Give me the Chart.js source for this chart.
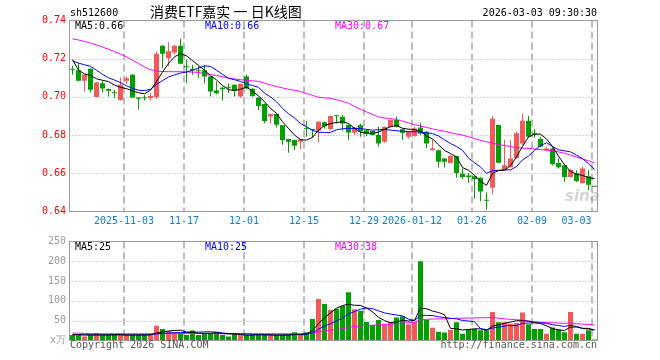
<!DOCTYPE html>
<html>
<head>
<meta charset="utf-8">
<script src="https://cdn.jsdelivr.net/npm/chart.js@4.4.1/dist/chart.umd.min.js"></script>
<style>
  body { margin: 0; background: #fff; width: 660px; height: 360px; position: relative; overflow: hidden; }
  canvas { position: absolute; left: 0; }
  #cK { top: 0; }
  #cV { top: 232px; }
  .t { position: absolute; white-space: pre; font: 10px "DejaVu Sans Mono", monospace; line-height: 10px; }
</style>
</head>
<body>
<canvas id="cK" width="660" height="232"></canvas>
<canvas id="cV" width="660" height="128"></canvas>

<div class="t" style="left:70px;top:8px;color:#000">sh512600</div>
<div class="t" style="left:150px;top:4px;font:14px 'Noto Sans CJK SC';line-height:14px;color:#000">消费ETF嘉实 一 日K线图</div>
<div class="t" style="right:63px;top:7.5px;color:#000">2026-03-03 09:30:30</div>

<div class="t" style="left:75px;top:21px;color:#000">MA5:0.66</div>
<div class="t" style="left:205px;top:21px;color:#00f">MA10:0.66</div>
<div class="t" style="left:335px;top:21px;color:#f0f">MA30:0.67</div>

<div class="t" style="left:75px;top:241.5px;color:#000">MA5:25</div>
<div class="t" style="left:205px;top:241.5px;color:#00f">MA10:25</div>
<div class="t" style="left:335px;top:241.5px;color:#f0f">MA30:38</div>

<div class="t" style="left:70px;top:340px;color:#555">Copyright 2026 SINA.COM</div>
<div class="t" style="right:63px;top:340px;color:#555">http://finance.sina.com.cn</div>
<div class="t" style="left:565px;top:189px;font:italic bold 15px 'DejaVu Sans';line-height:15px;color:rgba(150,150,150,0.4)">sina</div>

<script>
// 日K：开高低收，按交易日顺序（2025-10 末 ~ 2026-03-03）
const openP = [0.7145,0.7139,0.7084,0.7147,0.7000,0.7072,0.7042,0.7022,0.6984,0.7084,
  0.7116,0.6997,0.6995,0.6993,0.7000,0.7268,0.7204,0.7233,0.7268,0.7158,
  0.7147,0.7138,0.7139,0.7107,0.7033,0.7048,0.7051,0.7063,0.7002,0.7107,
  0.7043,0.6996,0.6963,0.6898,0.6910,0.6851,0.6779,0.6774,0.6765,0.6833,
  0.6829,0.6823,0.6867,0.6832,0.6901,0.6896,0.6853,0.6812,0.6851,0.6826,
  0.6821,0.6800,0.6765,0.6844,0.6879,0.6830,0.6791,0.6795,0.6840,0.6818,
  0.6721,0.6721,0.6677,0.6654,0.6690,0.6598,0.6589,0.6584,0.6577,0.6460,
  0.6525,0.6853,0.6619,0.6632,0.6680,0.6756,0.6875,0.6806,0.6780,0.6721,
  0.6730,0.6654,0.6642,0.6580,0.6600,0.6548,0.6584,0.6530];
const highP = [0.7163,0.7178,0.7118,0.7150,0.7078,0.7084,0.7044,0.7037,0.7102,0.7107,
  0.7118,0.6999,0.7009,0.7021,0.7239,0.7270,0.7286,0.7272,0.7305,0.7195,
  0.7168,0.7160,0.7168,0.7110,0.7080,0.7053,0.7070,0.7065,0.7070,0.7116,
  0.7046,0.6998,0.6965,0.6912,0.6912,0.6853,0.6781,0.6776,0.6779,0.6874,
  0.6832,0.6872,0.6870,0.6902,0.6902,0.6905,0.6855,0.6842,0.6860,0.6828,
  0.6823,0.6844,0.6846,0.6882,0.6897,0.6835,0.6820,0.6844,0.6865,0.6820,
  0.6777,0.6723,0.6679,0.6695,0.6692,0.6625,0.6602,0.6590,0.6579,0.6500,
  0.6900,0.6856,0.6777,0.6774,0.6818,0.6914,0.6900,0.6830,0.6791,0.6739,
  0.6735,0.6677,0.6644,0.6623,0.6616,0.6635,0.6616,0.6530];
const lowP = [0.7116,0.7081,0.7028,0.7023,0.6998,0.7023,0.7002,0.6993,0.6980,0.7068,
  0.6995,0.6935,0.6981,0.6981,0.6989,0.7150,0.7160,0.7225,0.7174,0.7072,
  0.7116,0.7100,0.7072,0.7002,0.7014,0.6981,0.7020,0.7002,0.6995,0.7040,
  0.7000,0.6932,0.6862,0.6860,0.6840,0.6749,0.6707,0.6721,0.6726,0.6791,
  0.6786,0.6765,0.6835,0.6825,0.6860,0.6823,0.6774,0.6800,0.6791,0.6795,
  0.6798,0.6739,0.6760,0.6840,0.6840,0.6774,0.6782,0.6791,0.6800,0.6730,
  0.6719,0.6630,0.6630,0.6652,0.6577,0.6570,0.6549,0.6467,0.6455,0.6409,
  0.6490,0.6652,0.6617,0.6630,0.6675,0.6747,0.6788,0.6788,0.6737,0.6718,
  0.6642,0.6625,0.6554,0.6578,0.6554,0.6548,0.6511,0.6530];
const closeP = [0.7142,0.7084,0.7116,0.7037,0.7075,0.7044,0.7032,0.7019,0.7063,0.7098,
  0.6997,0.6990,0.6993,0.7005,0.7226,0.7226,0.7239,0.7268,0.7174,0.7155,
  0.7140,0.7134,0.7107,0.7028,0.7019,0.7040,0.7048,0.7032,0.7068,0.7045,
  0.7005,0.6953,0.6874,0.6910,0.6854,0.6775,0.6765,0.6744,0.6777,0.6831,
  0.6827,0.6870,0.6846,0.6900,0.6899,0.6861,0.6814,0.6840,0.6819,0.6807,
  0.6800,0.6756,0.6842,0.6879,0.6844,0.6812,0.6818,0.6835,0.6809,0.6756,
  0.6730,0.6660,0.6660,0.6690,0.6602,0.6581,0.6581,0.6570,0.6505,0.6456,
  0.6885,0.6655,0.6642,0.6677,0.6810,0.6875,0.6791,0.6804,0.6739,0.6730,
  0.6647,0.6632,0.6580,0.6617,0.6560,0.6625,0.6540,0.6530];

// 均线
const ma5P = [0.7195,0.7140,0.7120,0.7112,0.7095,0.7087,0.7080,0.7062,0.7050,0.7043,
  0.7032,0.7022,0.7016,0.7035,0.7080,0.7130,0.7175,0.7210,0.7226,0.7215,
  0.7190,0.7165,0.7140,0.7110,0.7089,0.7060,0.7038,0.7033,0.7040,0.7051,
  0.7030,0.7005,0.6975,0.6940,0.6914,0.6870,0.6835,0.6800,0.6776,0.6774,
  0.6788,0.6826,0.6850,0.6860,0.6866,0.6870,0.6861,0.6835,0.6815,0.6810,
  0.6809,0.6816,0.6830,0.6844,0.6850,0.6836,0.6831,0.6830,0.6820,0.6796,
  0.6780,0.6750,0.6720,0.6703,0.6686,0.6630,0.6616,0.6590,0.6558,0.6537,
  0.6600,0.6614,0.6616,0.6640,0.6686,0.6740,0.6790,0.6805,0.6805,0.6780,
  0.6740,0.6690,0.6645,0.6610,0.6595,0.6589,0.6578,0.6572];
const ma10P = [0.7189,0.7177,0.7168,0.7160,0.7140,0.7118,0.7100,0.7088,0.7075,0.7058,
  0.7045,0.7035,0.7033,0.7040,0.7065,0.7085,0.7104,0.7115,0.7125,0.7130,
  0.7140,0.7151,0.7162,0.7160,0.7140,0.7118,0.7098,0.7090,0.7081,0.7068,
  0.7060,0.7050,0.7020,0.7000,0.6975,0.6940,0.6912,0.6890,0.6860,0.6844,
  0.6825,0.6815,0.6814,0.6814,0.6828,0.6833,0.6835,0.6835,0.6835,0.6830,
  0.6826,0.6828,0.6830,0.6826,0.6823,0.6820,0.6818,0.6818,0.6816,0.6812,
  0.6808,0.6795,0.6775,0.6756,0.6740,0.6720,0.6680,0.6655,0.6633,0.6600,
  0.6614,0.6616,0.6618,0.6618,0.6635,0.6670,0.6690,0.6720,0.6745,0.6760,
  0.6740,0.6723,0.6718,0.6712,0.6695,0.6677,0.6650,0.6620];
const ma30P = [0.7304,0.7298,0.7290,0.7282,0.7272,0.7261,0.7250,0.7237,0.7224,0.7210,
  0.7192,0.7175,0.7157,0.7142,0.7135,0.7133,0.7132,0.7132,0.7132,0.7131,
  0.7130,0.7128,0.7122,0.7117,0.7112,0.7105,0.7098,0.7094,0.7090,0.7087,
  0.7084,0.7081,0.7072,0.7063,0.7054,0.7047,0.7040,0.7034,0.7028,0.7018,
  0.7008,0.6998,0.6995,0.6993,0.6985,0.6976,0.6967,0.6950,0.6935,0.6922,
  0.6908,0.6895,0.6890,0.6886,0.6882,0.6873,0.6864,0.6855,0.6848,0.6840,
  0.6833,0.6826,0.6820,0.6813,0.6806,0.6800,0.6791,0.6782,0.6773,0.6765,
  0.6758,0.6751,0.6745,0.6740,0.6735,0.6732,0.6730,0.6727,0.6724,0.6721,
  0.6719,0.6712,0.6705,0.6695,0.6685,0.6675,0.6665,0.6655];

// 成交量（万手）及均量
const volume = [14,14,10,14,19,14,14,14,14,14,
  14,14,14,16,37,29,24,21,19,14,
  25,14,19,19,22,14,10,16,14,14,
  14,14,14,14,14,14,14,21,14,21,
  54,105,92,77,80,87,122,79,75,47,
  39,52,39,47,58,61,41,47,200,52,
  32,22,20,27,46,17,29,29,26,26,
  72,46,46,42,44,71,41,29,29,17,
  33,27,21,72,17,17,26,2.5];
const ma5V = [15,15,14,14,14.2,14.2,14.2,15,15,14,
  14,14,14,14.4,19,22,24,25.4,26,21.4,
  20.6,18.6,18.2,18.2,19.8,17.6,16.8,16.2,15.2,13.6,
  13.6,14.4,14,14,14,14,14,15.4,15.4,16.8,
  24.8,43,57.2,69.8,81.6,88.2,91.6,89,88.6,82,
  72.4,58.4,50.4,44.8,47,51.4,49.2,50.8,81.4,80.2,
  74.4,70.6,65.2,30.6,29.4,26.4,27.8,29.6,29.4,25.4,
  36.4,39.8,43.2,46.4,50,49.8,48.8,45.4,42.8,37.4,
  29.8,27,25.4,34,34,30.8,30.6,26.9];
const ma10V = [14.5,14.5,14.4,14.3,14.2,14.2,14.1,14.1,14.1,14.1,
  14.1,14.1,14.5,14.7,16.5,18,19,19.7,20.2,20.2,
  21.3,21.3,21.8,22.1,20.6,19.1,17.7,17.2,16.7,16.7,
  15.6,15.6,15.1,14.6,13.8,13.8,14.2,14.7,14.7,15.4,
  19.4,28.5,36.3,42.6,49.2,56.5,67.3,73.1,79.2,81.8,
  80.3,75,69.7,66.7,64.5,61.9,53.8,50.6,63.1,63.6,
  62.9,59.9,58,56,54.8,50.4,49.2,47.4,30,27.4,
  31.4,33.8,36.4,37.9,37.7,43.1,44.3,44.3,44.6,43.7,
  39.8,37.9,35.4,38.4,35.7,30.3,28.8,26.2];
const ma30V = [19,18.5,18,17.5,17.2,17,17,17,17,17,
  17,17,17,17,17.2,17.4,17.5,17.6,17.6,17.6,
  17.6,17.5,17.4,17.3,17.2,17.1,17,17,17,17,
  17,17,17.1,17.1,17,17,17,17.2,17.2,17.4,
  18.8,21.8,24.4,26.4,27.9,29.8,33.1,35,36.9,38,
  38.4,39.7,40.4,41.3,42.5,44.1,45.1,46.1,52.3,53.6,
  54.2,54.5,54.7,55.1,56.2,56.3,56.8,57,57.4,57.6,
  58.2,56.2,54.7,53.5,52.3,51.8,49.1,47.4,45.9,44.9,
  44.7,43.9,43.3,44.1,42.7,41.3,40.8,39.3];

// 日期刻度
const tickIdx = [9, 19, 29, 39, 49, 57, 67, 77, 87];
const tickText = ['2025-11-03', '11-17', '12-01', '12-15', '12-29', '2026-01-12', '01-26', '02-09', '03-03'];
const priceTicks = [0.64, 0.66, 0.68, 0.70, 0.72, 0.74];
const volTicks = [0, 50, 100, 150, 200, 250];

const UP = '#f25a5a';
const DOWN = '#00a000';
const MONO = 'DejaVu Sans Mono';
const labels = openP.map((_, i) => i);
const barColor = ctx => closeP[ctx.dataIndex] > openP[ctx.dataIndex] ? UP : DOWN;

// 网格、边框、日期标签
const panelGrid = {
  id: 'panelGrid',
  beforeDatasetsDraw(chart, args, o) {
    const { ctx, chartArea: a, scales: { x, y } } = chart;
    ctx.save();
    ctx.lineWidth = 1;
    ctx.strokeStyle = '#aaa';
    ctx.setLineDash([1, 2]);
    o.hLines.forEach(v => {
      const py = Math.round(y.getPixelForValue(v)) + 0.5;
      ctx.beginPath(); ctx.moveTo(a.left, py); ctx.lineTo(a.right, py); ctx.stroke();
    });
    ctx.lineWidth = 2;
    ctx.strokeStyle = '#bbb';
    ctx.setLineDash([7, 4]);
    tickIdx.forEach(i => {
      const px = Math.round(x.getPixelForValue(i) - 2.5);
      ctx.beginPath(); ctx.moveTo(px, a.top); ctx.lineTo(px, a.bottom); ctx.stroke();
    });
    ctx.restore();
  },
  afterDraw(chart, args, o) {
    const { ctx, chartArea: a, scales: { x } } = chart;
    ctx.save();
    ctx.strokeStyle = '#999';
    ctx.lineWidth = 1;
    ctx.strokeRect(a.left, a.top, a.width, a.height);
    if (o.dates) {
      ctx.font = '10px "' + MONO + '"';
      ctx.fillStyle = '#0a7fd8';
      ctx.textAlign = 'center';
      ctx.textBaseline = 'middle';
      tickIdx.forEach((i, n) => {
        const w = ctx.measureText(tickText[n]).width;
        const px = Math.min(x.getPixelForValue(i) - 2.5, a.right - 6 - w / 2);
        ctx.fillText(tickText[n], px, a.bottom + 10);
      });
    }
    ctx.restore();
  }
};

const lineDs = (data, color) => ({
  type: 'line', data, borderColor: color, borderWidth: 1,
  pointRadius: 0, tension: 0, order: 0
});

const yAxis = (ticks, color, cb) => ({
  min: ticks[0], max: ticks[ticks.length - 1],
  afterBuildTicks: s => { s.ticks = ticks.map(v => ({ value: v })); },
  afterFit: s => { s.width = 69.5; },
  grid: { display: false, drawTicks: false },
  border: { display: false },
  ticks: { color, padding: 3.5, font: { family: MONO, size: 10 }, callback: cb }
});

const common = {
  responsive: false,
  devicePixelRatio: 1,
  animation: false,
  events: [],
  plugins: { legend: { display: false }, tooltip: { enabled: false } }
};

// K线图
new Chart(document.getElementById('cK'), {
  type: 'bar',
  data: {
    labels,
    datasets: [
      lineDs(ma5P, '#000'),
      lineDs(ma10P, '#00f'),
      lineDs(ma30P, '#f0f'),
      {
        data: openP.map((o, i) => [o, closeP[i]]),
        backgroundColor: barColor, borderWidth: 0, inflateAmount: 0,
        barThickness: 5, minBarLength: 1, grouped: false, order: 1
      },
      {
        data: lowP.map((l, i) => [l, highP[i]]),
        backgroundColor: barColor, borderWidth: 0, inflateAmount: 0,
        barThickness: 1, grouped: false, order: 2
      }
    ]
  },
  options: {
    ...common,
    layout: { padding: { top: 20.5, right: 62.5, bottom: 20.5, left: 0 } },
    scales: {
      x: { display: false },
      y: yAxis(priceTicks, '#f00', v => v.toFixed(2))
    },
    plugins: { ...common.plugins, panelGrid: { hLines: [0.66, 0.68, 0.70, 0.72], dates: true } }
  },
  plugins: [panelGrid]
});

// 成交量
new Chart(document.getElementById('cV'), {
  type: 'bar',
  data: {
    labels,
    datasets: [
      lineDs(ma5V, '#000'),
      lineDs(ma10V, '#00f'),
      lineDs(ma30V, '#f0f'),
      {
        data: volume,
        backgroundColor: barColor, borderWidth: 0, inflateAmount: 0,
        barThickness: 5, grouped: false, order: 1
      }
    ]
  },
  options: {
    ...common,
    layout: { padding: { top: 7.5, right: 62.5, bottom: 19.5, left: 0 } },
    scales: {
      x: { display: false },
      y: yAxis(volTicks, '#999', v => v === 0 ? 'x万' : v)
    },
    plugins: { ...common.plugins, panelGrid: { hLines: [50, 100, 150, 200], dates: false } }
  },
  plugins: [panelGrid]
});
</script>
</body>
</html>
